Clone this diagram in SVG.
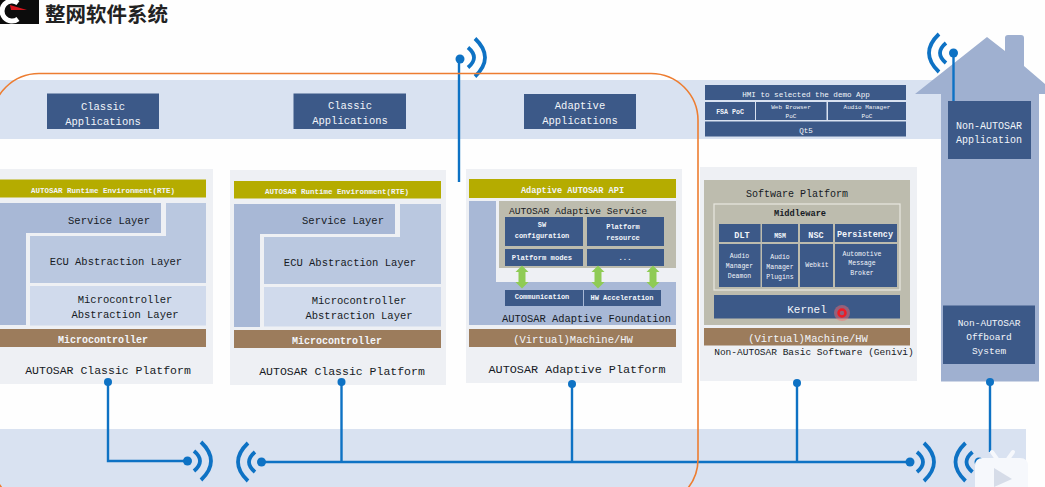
<svg xmlns="http://www.w3.org/2000/svg" width="1045" height="487" viewBox="0 0 1045 487">
<style>
text{font-family:"Liberation Mono","DejaVu Sans Mono",monospace;text-anchor:middle;fill:#161a24}
.w{fill:#f2f5fa}
.b{font-weight:bold}
.band{fill:#d9e2f1}
.panel{fill:#eef0f4}
.navy{fill:#3c5988}
.rte{fill:#b5ac00}
.brown{fill:#9c7c5c}
.a{fill:#a8b8d6}
.c{fill:#bac8e0}
.d{fill:#d0daec}
.tan{fill:#bdbcae}
.wire{fill:none;stroke:#0e72c4;stroke-width:2.400}
.arc{fill:none;stroke:#0e72c4;stroke-width:3.800}
.dot{fill:#0e72c4}
.grn{fill:#8fcb55}
</style>
<defs>
<g id="wifi"><path class="arc" d="M6.500-10Q18.500 0 6.500 10"/><path class="arc" d="M13.500-19Q33.500 0 13.500 19"/></g>
<path id="ga" class="grn" d="M0-11.500L6.500-5H3.500V5H6.500L0 11.500L-6.500 5H-3.500V-5H-6.500Z"/>
</defs>
<rect width="1045" height="487" fill="#fefefe"/>
<g id="header">
<rect x="0" y="0" width="39" height="24" fill="#0c0c0c"/>
<path d="M18 3A10 10 0 1 0 18 19" fill="none" stroke="#fff" stroke-width="5"/>
<path d="M10 5L27 10L11 10Z" fill="#d4141c"/>
<text x="45" y="22" style="font-family:'Noto Sans CJK SC',sans-serif;text-anchor:start;font-size:20.5px;font-weight:bold;fill:#222">整网软件系统</text>
</g>
<rect id="top-band" class="band" x="0" y="80" width="960" height="59"/>
<rect id="bottom-band" class="band" x="0" y="429" width="1026" height="58"/>
<g id="classic-apps-1"><rect class="navy" x="47" y="93.500" width="112" height="35.500"/><text class="w" x="103" y="110" font-size="10.5">Classic</text><text class="w" x="103" y="125" font-size="10.5">Applications</text></g>
<g id="classic-apps-2"><rect class="navy" x="293.500" y="93.500" width="112.500" height="35.500"/><text class="w" x="350" y="109" font-size="10.5">Classic</text><text class="w" x="350" y="124" font-size="10.5">Applications</text></g>
<g id="adaptive-apps"><rect class="navy" x="524" y="94" width="112" height="35"/><text class="w" x="580" y="109" font-size="10.5">Adaptive</text><text class="w" x="580" y="124" font-size="10.5">Applications</text></g>
<g id="classic-platform-1">
<rect class="panel" x="0" y="169" width="213" height="215"/>
<rect class="rte" x="0" y="179.500" width="206" height="18"/>
<text class="w b" x="103" y="193" font-size="7.5">AUTOSAR Runtime Environment(RTE)</text>
<path class="a" d="M0 203H161V233H26V325H0Z"/>
<path class="c" d="M166 203H206V283H30V236H166Z"/>
<rect class="d" x="30" y="286" width="176" height="39.500"/>
<rect class="brown" x="0" y="329" width="206" height="18"/>
<text x="109" y="223.500" font-size="10.5">Service Layer</text>
<text x="116" y="265" font-size="10.5">ECU Abstraction Layer</text>
<text x="125" y="303" font-size="10.5">Microcontroller</text>
<text x="125" y="318" font-size="10.5">Abstraction Layer</text>
<text class="w b" x="103" y="343" font-size="10">Microcontroller</text>
<text x="108" y="374" font-size="11.500">AUTOSAR Classic Platform</text>
</g>
<g id="classic-platform-2">
<rect class="panel" x="230" y="170" width="216" height="215"/>
<rect class="rte" x="234" y="181" width="207" height="17.500"/>
<text class="w b" x="337" y="194" font-size="7.5">AUTOSAR Runtime Environment(RTE)</text>
<path class="a" d="M234 204H395V234H260V327H234Z"/>
<path class="c" d="M400 204H441V284H264V237H400Z"/>
<rect class="d" x="264" y="287" width="177" height="39.500"/>
<rect class="brown" x="234" y="330" width="207" height="18"/>
<text x="343" y="224" font-size="10.5">Service Layer</text>
<text x="350" y="265.500" font-size="10.5">ECU Abstraction Layer</text>
<text x="359" y="304" font-size="10.5">Microcontroller</text>
<text x="359" y="319" font-size="10.5">Abstraction Layer</text>
<text class="w b" x="337" y="344" font-size="10">Microcontroller</text>
<text x="342" y="375" font-size="11.500">AUTOSAR Classic Platform</text>
</g>
<g id="adaptive-platform">
<rect class="panel" x="466" y="169" width="216" height="214"/>
<rect class="rte" x="469" y="179" width="207" height="19"/>
<text class="w b" x="572.500" y="193" font-size="8.600">Adaptive AUTOSAR API</text>
<path class="a" d="M469 201H496V282H676V325H469Z"/>
<rect class="tan" x="499" y="201" width="177" height="67"/>
<text x="578" y="214" font-size="9.600">AUTOSAR Adaptive Service</text>
<rect class="navy" x="505" y="217" width="78" height="29"/>
<rect class="navy" x="587" y="217" width="77" height="29"/>
<rect class="navy" x="505" y="249" width="78" height="17"/>
<rect class="navy" x="587" y="249" width="77" height="17"/>
<text class="w b" x="542" y="227" font-size="7">SW</text>
<text class="w b" x="542" y="238" font-size="7">configuration</text>
<text class="w b" x="623" y="229" font-size="7">Platform</text>
<text class="w b" x="623" y="240" font-size="7">resource</text>
<text class="w b" x="542" y="260" font-size="7.200">Platform modes</text>
<text class="w b" x="625" y="260" font-size="7.200">...</text>
<use href="#ga" x="522" y="277"/><use href="#ga" x="598" y="277"/><use href="#ga" x="653" y="277"/>
<rect class="navy" x="505" y="290" width="78" height="16"/>
<rect class="navy" x="584" y="290" width="77" height="16"/>
<text class="w b" x="542" y="299" font-size="7">Communication</text>
<text class="w b" x="622" y="300" font-size="7">HW Acceleration</text>
<text x="586.500" y="322" font-size="10.450">AUTOSAR Adaptive Foundation</text>
<rect class="brown" x="469" y="329" width="207" height="18"/>
<text class="w" x="573" y="343" font-size="10.500">(Virtual)Machine/HW</text>
<text x="577" y="373" font-size="11.800">AUTOSAR Adaptive Platform</text>
</g>
<g id="hmi">
<rect class="navy" x="705" y="85" width="201" height="15"/>
<rect class="navy" x="705" y="102" width="50" height="18"/>
<rect class="navy" x="756" y="102" width="70.500" height="18"/>
<rect class="navy" x="828" y="102" width="78" height="18"/>
<rect class="navy" x="705" y="121.500" width="201" height="15"/>
<text class="w" x="806" y="97" font-size="7.600">HMI to selected the demo App</text>
<text class="w b" x="730" y="114" font-size="6.600">FSA PoC</text>
<text class="w" x="791" y="109" font-size="6">Web Browser</text>
<text class="w" x="791" y="118" font-size="6">PoC</text>
<text class="w" x="867" y="109" font-size="6">Audio Manager</text>
<text class="w" x="867" y="118" font-size="6">PoC</text>
<text class="w" x="806" y="133" font-size="7.600">Qt5</text>
</g>
<g id="non-autosar-basic-software">
<rect class="panel" x="700" y="167" width="217" height="214"/>
<rect class="tan" x="704" y="180" width="206" height="145"/>
<text x="797" y="197" font-size="10">Software Platform</text>
<rect class="tan" x="714" y="204" width="186" height="86" stroke="#e8e8e0" stroke-width="1.200"/>
<text class="b" x="800" y="216" font-size="8.700">Middleware</text>
<rect class="navy" x="719" y="224" width="41.500" height="18"/>
<rect class="navy" x="762" y="224" width="36" height="18"/>
<rect class="navy" x="800" y="224" width="33" height="18"/>
<rect class="navy" x="835" y="224" width="62" height="18"/>
<rect class="navy" x="719" y="244" width="41.500" height="43"/>
<rect class="navy" x="762" y="244" width="36" height="43"/>
<rect class="navy" x="800" y="244" width="33" height="43"/>
<rect class="navy" x="835" y="244" width="62" height="43"/>
<text class="w b" x="742" y="238" font-size="8.500">DLT</text>
<text class="w b" x="780" y="238" font-size="6.500">MSM</text>
<text class="w b" x="816" y="238" font-size="8.500">NSC</text>
<text class="w b" x="865" y="237" font-size="8.500">Persistency</text>
<text class="w" x="739.500" y="258" font-size="6.500">Audio</text>
<text class="w" x="739.500" y="268" font-size="6.500">Manager</text>
<text class="w" x="739.500" y="278" font-size="6.500">Deamon</text>
<text class="w" x="780" y="259" font-size="6.500">Audio</text>
<text class="w" x="780" y="269" font-size="6.500">Manager</text>
<text class="w" x="780" y="279" font-size="6.500">Plugins</text>
<text class="w" x="817" y="267" font-size="6.500">Webkit</text>
<text class="w" x="862" y="256" font-size="6.500">Automotive</text>
<text class="w" x="862" y="265" font-size="6.500">Message</text>
<text class="w" x="862" y="275" font-size="6.500">Broker</text>
<rect class="navy" x="714" y="295" width="186" height="23.500"/>
<text class="w" x="807" y="313" font-size="11">Kernel</text>
<circle cx="842" cy="313" r="8" fill="#ff6a6a" opacity="0.450"/>
<circle cx="842" cy="313" r="3.500" fill="none" stroke="#ee1c25" stroke-width="2.500"/>
<rect class="brown" x="704" y="328" width="206" height="17.500"/>
<text class="w" x="808" y="342" font-size="10.500">(Virtual)Machine/HW</text>
<text x="814" y="355" font-size="9.500">Non-AUTOSAR Basic Software (Genivi)</text>
</g>
<g id="house">
<path d="M941 381.500V94H915L987 37L1005 51V38Q1005 35 1008 35H1021Q1024 35 1024 38V66L1045 84V94H1039V381.500Z" fill="#9fb0d0"/>
</g>
<g id="non-autosar-application"><rect class="navy" x="948" y="101" width="83" height="58"/><text class="w" x="989" y="129" font-size="10">Non-AUTOSAR</text><text class="w" x="989" y="143" font-size="10">Application</text></g>
<g id="non-autosar-offboard"><rect class="navy" x="943" y="305.500" width="92" height="58.500"/><text class="w" x="989" y="326" font-size="9.500">Non-AUTOSAR</text><text class="w" x="989" y="340" font-size="9.500">Offboard</text><text class="w" x="989" y="354" font-size="9.500">System</text></g>
<g id="connectors">
<path class="wire" d="M108 382V461H187"/>
<path class="wire" d="M261 462H910"/>
<path class="wire" d="M341.500 382V462M572 382V462M797 382V462M990 382V452"/>
<path class="wire" d="M459 60V182"/>
<path class="wire" d="M953.500 53V101"/>
<circle class="dot" cx="108" cy="382" r="4"/><circle class="dot" cx="341.500" cy="382" r="4"/><circle class="dot" cx="572" cy="384" r="4"/><circle class="dot" cx="797" cy="383" r="4"/><circle class="dot" cx="990" cy="382" r="4"/>
<circle class="dot" cx="187.500" cy="461" r="4.500"/><use href="#wifi" x="187.500" y="461"/>
<circle class="dot" cx="261.500" cy="462" r="4.500"/><use href="#wifi" transform="translate(261.500 462) scale(-1 1)"/>
<circle class="dot" cx="910" cy="462" r="4.500"/><use href="#wifi" x="910.500" y="462"/>
<circle class="dot" cx="979" cy="462" r="4.500"/><use href="#wifi" transform="translate(979 462) scale(-1 1)"/>
<circle class="dot" cx="460" cy="59" r="4.500"/><use href="#wifi" x="461.500" y="57.500"/>
<circle class="dot" cx="953.500" cy="53" r="4.500"/><use href="#wifi" transform="translate(952.500 53) scale(-1 1)"/>
</g>
<rect id="highlight" x="-8" y="73.500" width="706" height="432.500" rx="47" fill="none" stroke="#ed7d31" stroke-width="1.600"/>
<g id="player-badge">
<path d="M992 452L997 459M1013 452L1008 459" stroke="#f6f8fc" stroke-width="4" stroke-linecap="round"/>
<path d="M975 487V466Q975 458 983 458H1020Q1028 458 1028 466V487Z" fill="#f6f8fc"/>
<path d="M994 468L1012 479L994 487Z" fill="#d6dce8"/>
</g>
</svg>
